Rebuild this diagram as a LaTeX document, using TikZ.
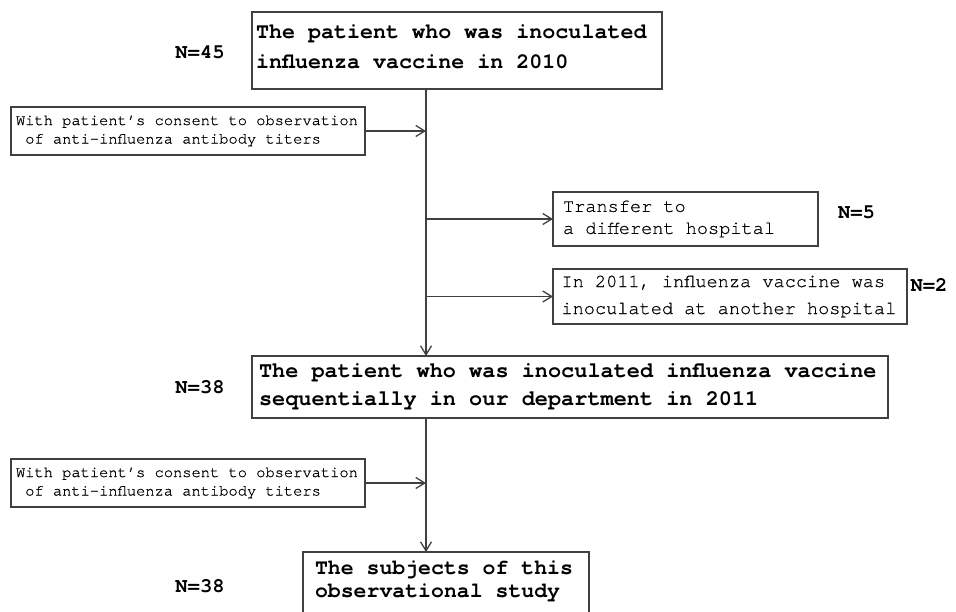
\documentclass[tikz,border=0pt]{standalone}
\usepackage{fontspec}
\newfontfamily\cour{TeX Gyre Cursor}
\newfontfamily\courr[FakeBold=0.6]{TeX Gyre Cursor}
\usetikzlibrary{arrows.meta}
\definecolor{lc}{RGB}{64,64,64}
\begin{document}
\begin{tikzpicture}[x=1pt,y=-1pt,
  box/.style={draw=lc, line width=1.4pt, outer sep=0pt, anchor=north west, align=left, text=black,
    execute at begin node={\spaceskip=0.6em\xspaceskip=0.6em}},
  mainf/.style={font=\cour\bfseries\fontsize{21.7}{#1}\selectfont},
  sidef/.style={font=\courr\fontsize{15.4}{18.5}\selectfont},
  rightf/.style={font=\courr\fontsize{18.6}{#1}\selectfont},
  nlab/.style={font=\cour\bfseries\fontsize{20.5}{24}\selectfont, text=black, inner sep=0pt},
  arr/.style={draw=lc, line width=1.4pt, -{Straight Barb[length=9pt,width=11pt,line width=1.3pt]}}
]
\useasboundingbox (0,0) rectangle (956,612);
\clip (0,0) rectangle (956,612);
\coordinate (sx) at (426,0);

\node[box, mainf=30, minimum width=410, minimum height=77, text width=402, inner xsep=4pt, text depth=38pt] (top) at (252,12)
  {The patient who was inoculated\\influenza vaccine in 2010};
\node[box, sidef, minimum width=354, minimum height=48, text width=344, inner xsep=5pt] (lb1) at (11,107)
  {With patient’s consent to observation\\\ of anti-influenza antibody titers};
\node[box, rightf=22, minimum width=265, minimum height=54, text width=245, inner xsep=10pt] (rb1) at (553,192)
  {Transfer to\\a different hospital};
\node[box, rightf=27, minimum width=354, minimum height=55, text width=337, inner xsep=8.5pt] (rb2) at (553,269)
  {In 2011, influenza vaccine was\\inoculated at another hospital};
\node[box, font=\cour\bfseries\fontsize{21.9}{28}\selectfont, minimum width=636, minimum height=62, text width=622, inner xsep=7pt] (mid) at (252,356)
  {The patient who was inoculated influenza vaccine\\sequentially in our department in 2011};
\node[box, sidef, minimum width=354, minimum height=48, text width=344, inner xsep=5pt] (lb2) at (11,459)
  {With patient’s consent to observation\\\ of anti-influenza antibody titers};
\node[box, font=\cour\bfseries\fontsize{21.5}{23}\selectfont, minimum width=286, text width=262, inner xsep=12pt, inner ysep=9pt, text depth=75pt] (bot) at (303,552)
  {The subjects of this\\observational study};

\node[nlab] (n45) at (200,52) {N=45};
\node[nlab] (n5) at (856.5,212) {N=5};
\node[nlab] (n2) at (929,285) {N=2};
\node[nlab] (n38a) at (200,387) {N=38};
\node[nlab] (n38b) at (200,586) {N=38};

\draw[arr] (top.south -| sx) -- (mid.north -| sx);
\draw[arr] (mid.south -| sx) -- (bot.north -| sx);
\draw[arr] (lb1.east) -- (lb1.east -| sx);
\draw[arr] (lb2.east) -- (lb2.east -| sx);
\draw[arr] (rb1.west -| sx) -- (rb1.west);
\draw[arr] (rb2.west -| sx) -- (rb2.west);
\end{tikzpicture}
\end{document}
